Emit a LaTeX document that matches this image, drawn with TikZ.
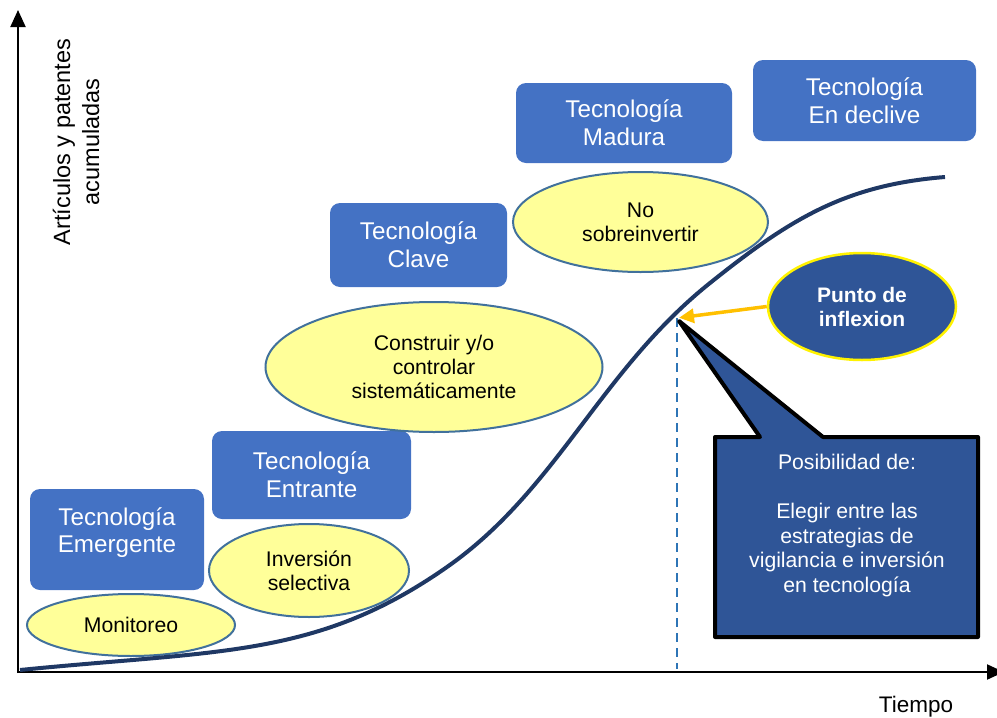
\documentclass[tikz,border=0pt]{standalone}
\usepackage{fontspec}
\setmainfont{Liberation Sans}
\usetikzlibrary{arrows.meta}
\usetikzlibrary{shapes.geometric}

\definecolor{etapa}{HTML}{4472C4}
\definecolor{amarillo}{HTML}{FFFF99}
\definecolor{bordeelipse}{HTML}{41719C}
\definecolor{azuloscuro}{HTML}{2F5597}
\definecolor{curvaazul}{HTML}{1F3864}
\definecolor{naranja}{HTML}{FFC000}
\definecolor{punteado}{HTML}{2E75B6}

\tikzset{
  etapabox/.style={fill=etapa, rounded corners=10pt, text=white, align=center, inner sep=0pt,
    font=\fontsize{24.2}{27.7}\selectfont},
  accion/.style={ellipse, draw=bordeelipse, line width=2pt, fill=amarillo, align=center, inner sep=0pt,
    font=\fontsize{21.2}{24}\selectfont},
  eje/.style={line width=2pt, -{Triangle[length=17pt, width=15pt]}}
}

\begin{document}
\begin{tikzpicture}[x=1pt, y=-1pt]
          \useasboundingbox (0,0) rectangle (997,718);

          % axes
          \coordinate (origen) at (18,673);
          \coordinate (ytop) at (18,10);
          \coordinate (xfin) at (1004,672);
          \draw [eje] (origen) -- (ytop);
          \draw [eje] ([xshift=-1pt]origen |- xfin) -- (xfin);

          \node [rotate=90, align=center, font=\fontsize{23.5}{29}\selectfont] (ylab) at (76,142) {Artículos y patentes\\acumuladas};
          \node [anchor=base, font=\fontsize{22.5}{27}\selectfont] (xlab) at (916,712) {Tiempo};

          % stages of the technology
          \node [etapabox, minimum width=174, minimum height=101, text depth=19pt] (emergente) at (117,539.5) {Tecnología\\Emergente}; % Draws a box
          \node [etapabox, minimum width=199, minimum height=88] (entrante) at (311.5,475) {Tecnología\\Entrante}; % Draws a box
          \node [etapabox, minimum width=177, minimum height=84] (clave) at (418.5,245) {Tecnología\\Clave}; % Draws a box
          \node [etapabox, minimum width=216, minimum height=80] (madura) at (624,123) {Tecnología\\Madura}; % Draws a box
          \node [etapabox, minimum width=223, minimum height=81] (declive) at (864.5,100.5) {Tecnología\\En declive}; % Draws a box

          % what to do at each stage
          \node [accion, minimum width=208, minimum height=62] (monitoreo) at (131,625) {Monitoreo};
          \node [accion, minimum width=200, minimum height=93] (inversion) at (309,570.5) {Inversión\\selectiva};
          \node [accion, minimum width=337, minimum height=130] (construir) at (434,367) {Construir y/o\\controlar\\sistemáticamente};
          \node [accion, minimum width=255, minimum height=100] (nosobre) at (640.5,222) {No\\sobreinvertir};

          % S curve
          \draw [curvaazul, line width=4pt] (20,670)
            .. controls (220,650) and (317,658) .. (447,567)
            .. controls (557,490) and (600,371) .. (710,283)
            .. controls (790,219) and (845,185) .. (945,177);

          \coordinate (infl) at (677,318);
          \coordinate (punta) at (679,321);
          \draw [punteado, line width=1.5pt, dash pattern=on 9pt off 6pt, shorten >=4pt] (infl) -- (infl |- origen);

          % call-out box with its pointer
          \filldraw [fill=azuloscuro, draw=black, line width=4pt, line join=round]
            (715,437) -- (760,437) -- (punta) -- (823,437) -- (978,437) -- (978,637) -- (715,637) -- cycle;
          \node [text=white, align=center, font=\fontsize{21.2}{24.5}\selectfont] (posib) at (847,525.5)
            {Posibilidad de:\\[24.5pt]Elegir entre las\\estrategias de\\vigilancia e inversión\\en tecnología};

          \node [ellipse, fill=azuloscuro, draw=yellow, line width=2.5pt, inner sep=0pt, minimum width=188, minimum height=107,
            text=white, align=center, font=\fontsize{21}{24}\selectfont\bfseries] (punto) at (862,306.5) {Punto de\\inflexion};
          \draw [naranja, line width=3.5pt, -{Triangle[length=15pt, width=14pt]}, shorten >=2pt] (punto.west) -- (infl);
\end{tikzpicture}
\end{document}
